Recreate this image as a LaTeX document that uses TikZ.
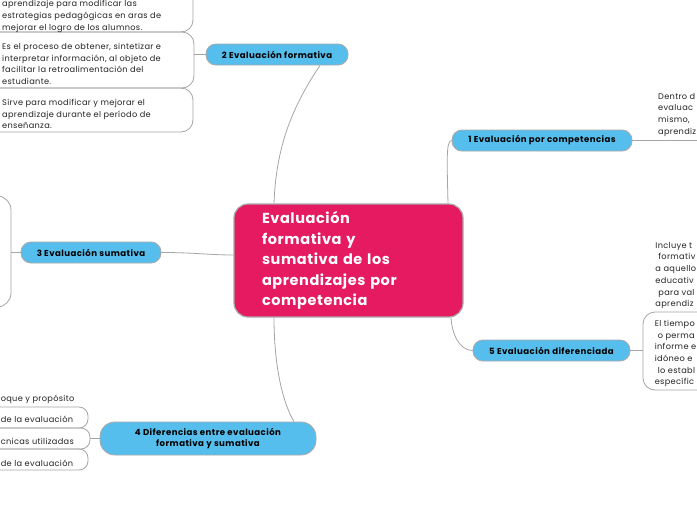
\documentclass[tikz,border=0pt]{standalone}
\usepackage{fontspec}
\setmainfont{Poppins}
\definecolor{pinkc}{RGB}{229,26,96}
\definecolor{bluec}{RGB}{86,190,237}
\definecolor{linec}{RGB}{165,165,165}
\definecolor{bordc}{RGB}{170,170,170}
\definecolor{txtc}{RGB}{35,35,35}
\begin{document}
\begin{tikzpicture}[x=1pt,y=-1pt,
  topic/.style={draw=bordc, line width=0.9pt, fill=bluec, rounded corners=10pt,
    minimum height=21pt, inner sep=0pt, font=\fontsize{8.6}{10.5}\selectfont\bfseries\addfontfeatures{LetterSpace=5}, text=black},
  leaf/.style={font=\fontsize{8.2}{11.7}\selectfont\addfontfeatures{LetterSpace=4}, text=txtc, inner sep=0pt},
  conn/.style={draw=linec, line width=0.8pt},
  grp/.style={draw=linec, line width=0.8pt, rounded corners=12pt}]
\useasboundingbox (0,0) rectangle (697,520);
\clip (0,0) rectangle (697,520);
\fill[white] (0,0) rectangle (697,520);

% central node
\node[draw=bordc, line width=1.2pt, fill=pinkc, rounded corners=14pt,
  minimum width=229pt, minimum height=113pt, inner xsep=28pt, inner ysep=0pt,
  text width=173pt, align=left, text=white,
  font=\fontsize{14.5}{20.5}\selectfont\bfseries\addfontfeatures{LetterSpace=4}] (c) at (348.5,260.5)
  {Evaluación\\formativa y\\sumativa de los\\aprendizajes por\\competencia};

% main topics
\node[topic, minimum width=142pt] (n2) at (277,54.5) {2 Evaluación formativa};
\node[topic, minimum width=180pt] (n1) at (542,140.5) {1 Evaluación por competencias};
\node[topic, minimum width=140pt] (n3) at (91,252.5) {3 Evaluación sumativa};
\node[topic, minimum width=157pt] (n5) at (551.5,350.5) {5 Evaluación diferenciada};
\node[topic, minimum width=216pt, minimum height=33pt, rounded corners=15pt, align=center]
  (n4) at (208,438.5) {4 Diferencias entre evaluación\\formativa y sumativa};

% connectors centre -> topics
\draw[conn] ([xshift=-74.5pt]c.north) .. controls (276,150) and (290,110) .. ([xshift=43pt]n2.south);
\draw[conn] ([xshift=99.5pt]c.north) .. controls (447,160) and (446,141) .. (n1.west);
\draw[conn] ([xshift=102.5pt]c.south) .. controls (452,335) and (460,350.5) .. (n5.west);
\draw[conn] ([yshift=5.5pt]c.west) .. controls (210,255) and (195,252.5) .. (n3.east);
\draw[conn] ([xshift=-74.5pt]c.south) .. controls (274,370) and (284,405) .. ([xshift=86pt]n4.north);

% group of topic 2
\draw[grp] (-30,-40) rectangle (193,32);
\draw[grp] (-30,32) rectangle (194,88);
\draw[grp] (-30,88) rectangle (193,132);
\coordinate (g2) at (194,54.5);
\draw[conn] (n2.west) -- (g2);
\node[leaf, anchor=north west, align=left] (t2a) at (2,0.4)
  {aprendizaje para modificar las\\estrategias pedagógicas en aras de\\mejorar el logro de los alumnos.};
\node[leaf, anchor=north west, align=left] (t2b) at (2,43)
  {Es el proceso de obtener, sintetizar e\\interpretar información, al objeto de\\facilitar la retroalimentación del\\estudiante.};
\node[leaf, anchor=north west, align=left] (t2c) at (2,99)
  {Sirve para modificar y mejorar el\\aprendizaje durante el período de\\enseñanza.};

% group of topic 3
\draw[grp, rounded corners=14pt] (-100,196) rectangle (11,307);
\coordinate (g3) at (11,252.5);
\draw[conn] (n3.west) -- (g3);

% group of topic 4
\draw[grp, rounded corners=9pt] (-100,407) rectangle (88,428);
\draw[grp, rounded corners=9pt] (-100,428) rectangle (90,449);
\draw[grp, rounded corners=9pt] (-100,449) rectangle (88,470);
\coordinate (g4) at (90,438.5);
\draw[conn] (n4.west) -- (g4);
\node[leaf, anchor=north west] (t4a) at (0.6,395) {oque y propósito};
\node[leaf, anchor=north west] (t4b) at (0.6,416) {de la evaluación};
\node[leaf, anchor=north west] (t4c) at (0.6,438) {cnicas utilizadas};
\node[leaf, anchor=north west] (t4d) at (0.6,460) {de la evaluación};

% group of topic 1
\coordinate (g1) at (697,140.5);
\draw[conn] (n1.east) -- (g1);
\node[leaf, anchor=north east, align=left] (t1a) at (696.4,93)
  {Dentro d\\evaluac\\mismo,\\aprendiz};

% group of topic 5
\node[leaf, anchor=north east, align=left] (t5a) at (696.4,242)
  {Incluye t\\\hspace*{3pt}formativ\\a aquello\\educativ\\\hspace*{3pt}para val\\aprendiz};
\draw[grp] (643,312) rectangle (760,390);
\coordinate (g5) at (643,350.5);
\draw[conn] (n5.east) -- (g5);
\node[leaf, anchor=north east, align=left] (t5b) at (696.4,320)
  {El tiempo\\\hspace*{3pt}o perma\\informe e\\idóneo e\\\hspace*{3pt}lo establ\\específic};
\end{tikzpicture}
\end{document}
